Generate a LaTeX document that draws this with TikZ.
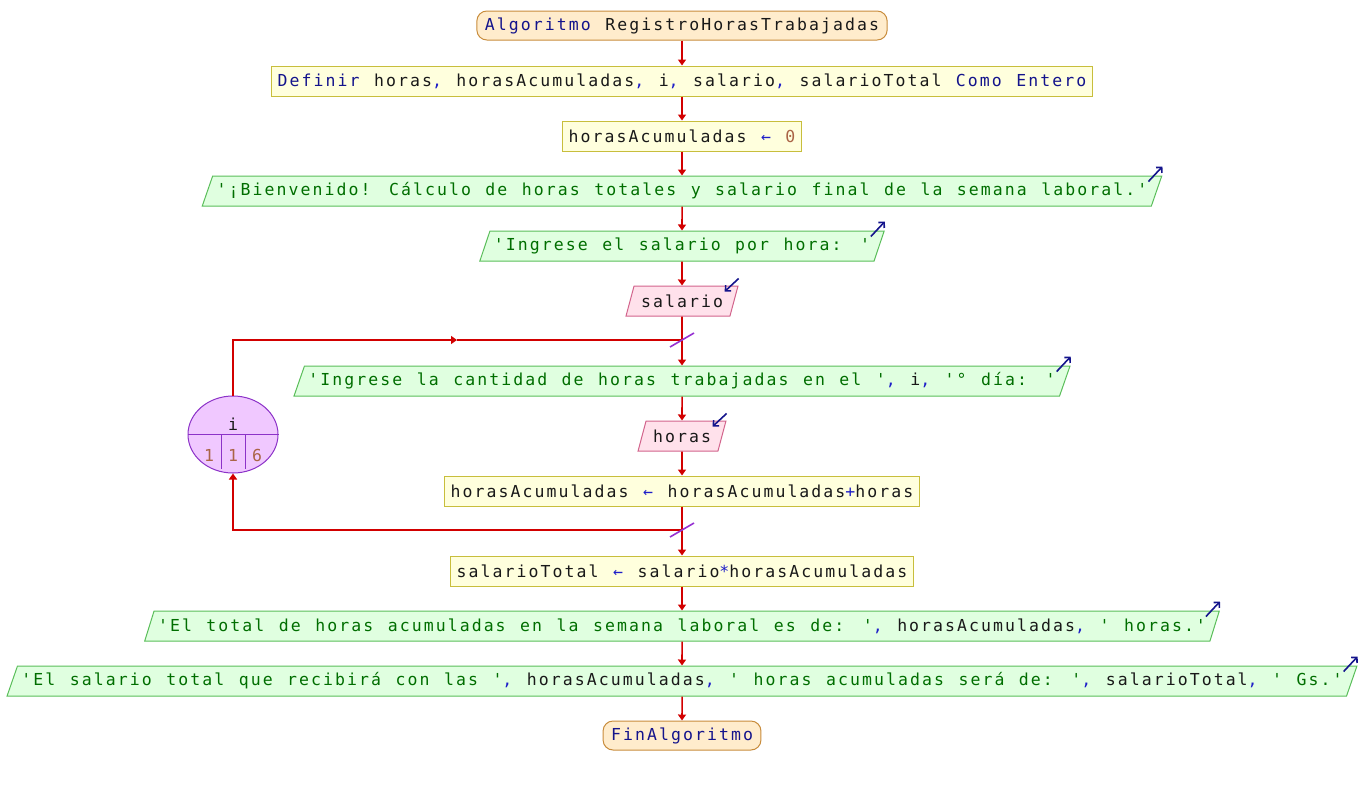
\documentclass[tikz,border=0pt]{standalone}
\usepackage{fontspec}
\usepackage{tikz}
\usetikzlibrary{arrows.meta,shapes.geometric,calc}
\newfontfamily\codefont[LetterSpace=12.5,WordSpace=1.21,Ligatures=TeXOff]{DejaVu Sans Mono}
\definecolor{kwcolor}{RGB}{20,20,140}
\definecolor{strcolor}{RGB}{0,110,0}
\definecolor{numcolor}{RGB}{170,100,70}
\definecolor{opcolor}{RGB}{30,30,200}
\definecolor{varcolor}{RGB}{25,25,25}
\definecolor{flowred}{RGB}{210,0,0}
\definecolor{slashpurple}{RGB}{150,50,210}
\definecolor{termfill}{RGB}{255,236,204}
\definecolor{termdraw}{RGB}{200,140,60}
\definecolor{procfill}{RGB}{255,255,221}
\definecolor{procdraw}{RGB}{200,190,60}
\definecolor{outfill}{RGB}{224,255,224}
\definecolor{outdraw}{RGB}{90,190,90}
\definecolor{infill}{RGB}{255,225,235}
\definecolor{indraw}{RGB}{210,100,140}
\definecolor{loopfill}{RGB}{240,200,255}
\definecolor{loopdraw}{RGB}{140,50,200}
\newcommand{\kwd}[1]{\textcolor{kwcolor}{#1}}
\newcommand{\strg}[1]{\textcolor{strcolor}{#1}}
\newcommand{\numr}[1]{\textcolor{numcolor}{#1}}
\newcommand{\opr}[1]{\textcolor{opcolor}{#1}}

\begin{document}
\begin{tikzpicture}[x=1pt, y=-1pt, >={Triangle[length=6pt,width=8pt]},
	every node/.style={font=\codefont\fontsize{16.5}{18}\selectfont, text=varcolor},
	terminal/.style={draw=termdraw, fill=termfill, line width=1pt, rounded corners=10pt, minimum height=29pt, inner xsep=8pt, inner ysep=0pt},
	proceso/.style={draw=procdraw, fill=procfill, line width=1pt, minimum height=30pt, inner xsep=6pt, inner ysep=0pt},
	salida/.style={trapezium, trapezium left angle=58, trapezium right angle=122, trapezium stretches body=true, draw=outdraw, fill=outfill, line width=1pt, minimum height=30pt, inner xsep=4pt, inner ysep=0pt},
	entrada/.style={trapezium, trapezium left angle=58, trapezium right angle=122, trapezium stretches body=true, draw=indraw, fill=infill, line width=1pt, minimum height=30pt, inner xsep=7pt, inner ysep=0pt},
	flujo/.style={->, draw=flowred, line width=1.6pt},
	linea/.style={draw=flowred, line width=1.6pt},
	marca/.style={draw=slashpurple, line width=1.6pt},
	flechaout/.style={-{Straight Barb[length=4pt,width=8pt]}, draw=kwcolor, line width=1.6pt},
	ciclo/.style={ellipse, draw=loopdraw, fill=loopfill, line width=1pt, minimum width=90pt, minimum height=77pt, inner sep=0pt}]
	\useasboundingbox (0,0) rectangle (1364,785);

	\node[terminal] (inicio) at (682,25.5) {\kwd{Algoritmo} RegistroHorasTrabajadas};
	\node[proceso] (definir) at (682,81) {\kwd{Definir} horas\opr{,} horasAcumuladas\opr{,} i\opr{,} salario\opr{,} salarioTotal \kwd{Como Entero}};
	\node[proceso] (asig0) at (682,136) {horasAcumuladas \opr{←} \numr{0}};
	\node[salida] (msg1) at (682,191) {\strg{'¡Bienvenido! Cálculo de horas totales y salario final de la semana laboral.'}};
	\node[salida] (msg2) at (682,246) {\strg{'Ingrese el salario por hora: '}};
	\node[entrada] (leer1) at (682,301) {salario};
	\node[salida] (msg3) at (682,381) {\strg{'Ingrese la cantidad de horas trabajadas en el '}\opr{,} i\opr{,} \strg{'° día: '}};
	\node[entrada] (leer2) at (682,436) {horas};
	\node[proceso] (asig1) at (682,491) {horasAcumuladas \opr{←} horasAcumuladas\opr{+}horas};
	\node[proceso] (asig2) at (682,571) {salarioTotal \opr{←} salario\opr{*}horasAcumuladas};
	\node[salida] (msg4) at (682,626) {\strg{'El total de horas acumuladas en la semana laboral es de: '}\opr{,} horasAcumuladas\opr{,} \strg{' horas.'}};
	\node[salida] (msg5) at (682,681) {\strg{'El salario total que recibirá con las '}\opr{,} horasAcumuladas\opr{,} \strg{' horas acumuladas será de: '}\opr{,} salarioTotal\opr{,} \strg{' Gs.'}};
	\node[terminal] (fin) at (682,735.5) {\kwd{FinAlgoritmo}};

	\node[ciclo] (bucle) at (233,434.5) {};
	\node (bvar) at (233,424) {i};
	\node[text=numcolor] (bini) at (209,455) {1};
	\node[text=numcolor] (bpaso) at (233,455) {1};
	\node[text=numcolor] (bfin) at (257,455) {6};
	\draw[draw=loopdraw, line width=1pt] (bucle.west) -- (bucle.east);
	\draw[draw=loopdraw, line width=1pt] ([xshift=-12pt]bucle.center) -- ([xshift=-12pt, yshift=-34pt]bucle.center);
	\draw[draw=loopdraw, line width=1pt] ([xshift=12pt]bucle.center) -- ([xshift=12pt, yshift=-34pt]bucle.center);

	\coordinate (cruce1) at (682,340);
	\coordinate (medio) at (457,340);
	\coordinate (cruce2) at (682,530);

	\draw[flujo] (inicio) -- (definir);
	\draw[flujo] (definir) -- (asig0);
	\draw[flujo] (asig0) -- (msg1);
	\draw[flujo] (msg1) -- (msg2);
	\draw[flujo] (msg2) -- (leer1);
	\draw[flujo] (leer1) -- (msg3);
	\draw[flujo] (msg3) -- (leer2);
	\draw[flujo] (leer2) -- (asig1);
	\draw[flujo] (asig1) -- (asig2);
	\draw[flujo] (asig2) -- (msg4);
	\draw[flujo] (msg4) -- (msg5);
	\draw[flujo] (msg5) -- (fin);

	\draw[flujo] (bucle.north) |- (medio);
	\draw[linea] (medio) -- (cruce1);
	\draw[flujo] (cruce2) -| (bucle.south);
	\draw[marca] ([shift={(-12,7)}]cruce1) -- ([shift={(12,-7)}]cruce1);
	\draw[marca] ([shift={(-12,7)}]cruce2) -- ([shift={(12,-7)}]cruce2);

	\draw[flechaout] ([shift={(-14,6)}]msg1.top right corner) -- ([shift={(0,-9)}]msg1.top right corner);
	\draw[flechaout] ([shift={(-14,6)}]msg2.top right corner) -- ([shift={(0,-9)}]msg2.top right corner);
	\draw[flechaout] ([shift={(-14,6)}]msg3.top right corner) -- ([shift={(0,-9)}]msg3.top right corner);
	\draw[flechaout] ([shift={(-14,6)}]msg4.top right corner) -- ([shift={(0,-9)}]msg4.top right corner);
	\draw[flechaout] ([shift={(-14,6)}]msg5.top right corner) -- ([shift={(0,-9)}]msg5.top right corner);
	\draw[flechaout] ([shift={(0,-7)}]leer1.top right corner) -- ([shift={(-14,6)}]leer1.top right corner);
	\draw[flechaout] ([shift={(0,-7)}]leer2.top right corner) -- ([shift={(-14,6)}]leer2.top right corner);
\end{tikzpicture}
\end{document}
